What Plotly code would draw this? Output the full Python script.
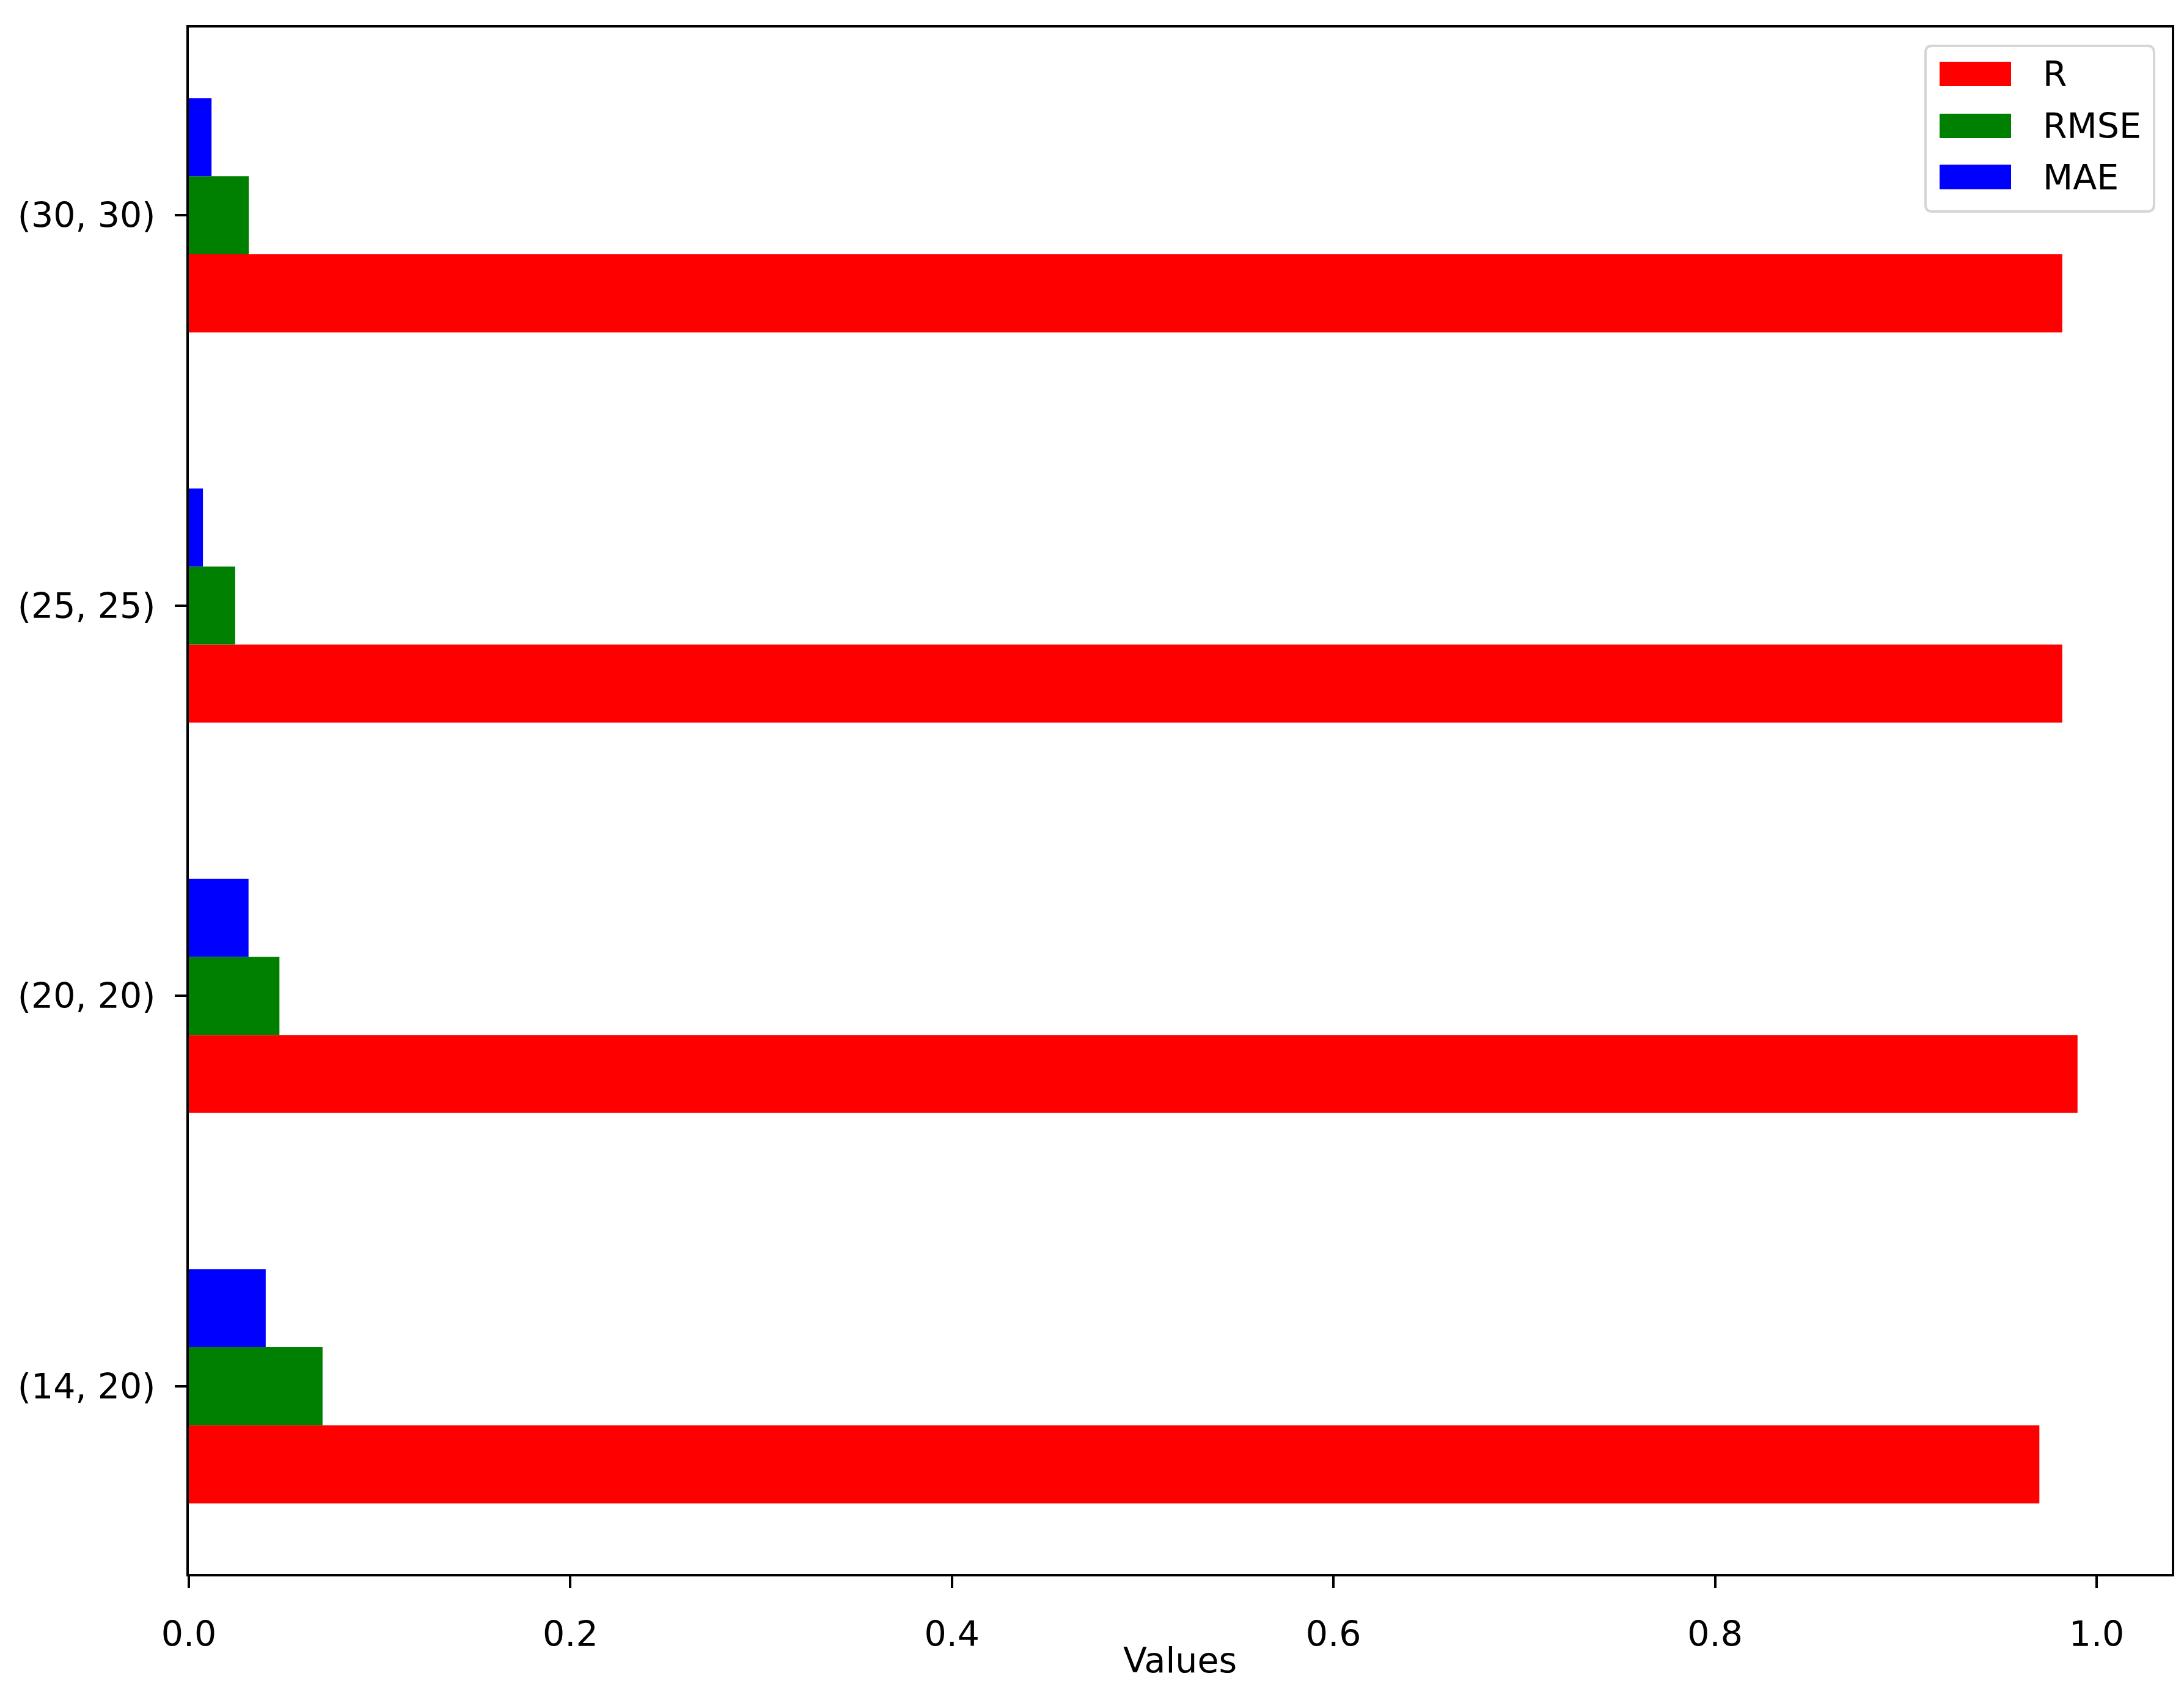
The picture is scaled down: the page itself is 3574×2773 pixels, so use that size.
import plotly.graph_objects as go

# values
configs = ["(14, 20)", "(20, 20)", "(25, 25)", "(30, 30)"]
r_vals = [0.970, 0.990, 0.982, 0.982]
rmse_vals = [0.0701, 0.0475, 0.0243, 0.0314]
mae_vals = [0.0403, 0.0313, 0.0074, 0.0119]

series = [
    ("R", r_vals, "#ff0000", -0.3),
    ("RMSE", rmse_vals, "#008000", -0.1),
    ("MAE", mae_vals, "#0000ff", 0.1),
]

W, H = 3574, 2773
L, R, T, B = 301, 3546, 37, 2567
FONT = "DejaVu Sans"
FS = 57

fig = go.Figure()
for name, vals, color, off in series:
    fig.add_trace(go.Bar(
        y=configs, x=vals, name=name, orientation="h",
        marker=dict(color=color, line=dict(width=0)),
        width=0.2, offset=off, showlegend=False))


def px_x(p):
    return (p - L) / (R - L)


def px_y(p):
    return (B - p) / (B - T)


# legend drawn by hand so the swatches keep matplotlib's wide shape
shapes = []
x0, x1, y0, y1, rad = 3143, 3517, 67, 338, 11
rx, ry = rad / (R - L), rad / (B - T)
a, b, c, d = px_x(x0), px_x(x1), px_y(y1), px_y(y0)
path = (f"M{a+rx},{c} L{b-rx},{c} Q{b},{c} {b},{c+ry} L{b},{d-ry} "
        f"Q{b},{d} {b-rx},{d} L{a+rx},{d} Q{a},{d} {a},{d-ry} "
        f"L{a},{c+ry} Q{a},{c} {a+rx},{c} Z")
shapes.append(dict(type="path", xref="paper", yref="paper", path=path,
                   fillcolor="rgba(255,255,255,0.8)",
                   line=dict(color="#d6d6d6", width=4)))
annotations = []
for (name, _, color, _), cy in zip(series, [113, 198, 281.5]):
    shapes.append(dict(type="rect", xref="paper", yref="paper",
                       x0=px_x(3166), x1=px_x(3283),
                       y0=px_y(cy + 20), y1=px_y(cy - 20),
                       fillcolor=color, line=dict(width=0)))
    annotations.append(dict(xref="paper", yref="paper", x=px_x(3333), y=px_y(cy),
                            text=name, showarrow=False, xanchor="left",
                            yanchor="middle",
                            font=dict(family=FONT, size=FS, color="black")))

annotations.append(dict(xref="paper", yref="paper", x=px_x(1923), y=px_y(2708),
                        text="Values", showarrow=False, xanchor="center",
                        yanchor="middle",
                        font=dict(family=FONT, size=FS, color="black")))

axis_common = dict(
    showline=True, linecolor="black", linewidth=4, mirror=True,
    ticks="outside", ticklen=19, tickwidth=4, tickcolor="black",
    showgrid=False, zeroline=False,
    tickfont=dict(family=FONT, size=FS, color="black"),
)

fig.update_layout(
    width=W, height=H,
    margin=dict(l=L, r=W - R, t=T, b=H - B, autoexpand=False),
    paper_bgcolor="white", plot_bgcolor="white",
    font=dict(family=FONT, size=FS, color="black"),
    xaxis=dict(range=[0, 1.0394], tickvals=[0, 0.2, 0.4, 0.6, 0.8, 1.0],
               tickformat=".1f", ticklabelstandoff=27, **axis_common),
    yaxis=dict(type="category", categoryorder="array", categoryarray=configs,
               range=[-0.481, 3.481], ticklabelstandoff=20, **axis_common),
    shapes=shapes,
    annotations=annotations,
    showlegend=False,
)

fig.write_html("out.html")
